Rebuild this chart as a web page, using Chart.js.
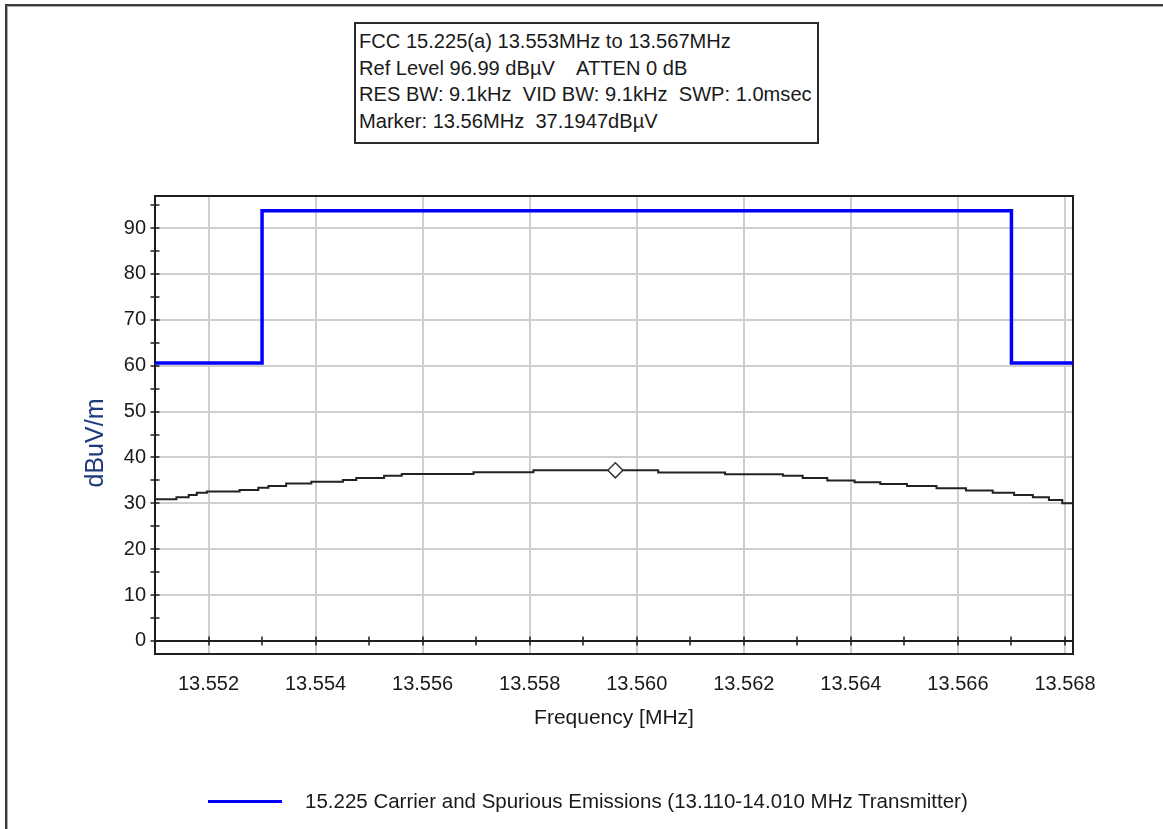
<!DOCTYPE html>
<html>
<head>
<meta charset="utf-8">
<title>FCC 15.225 Emissions</title>
<script src="https://cdn.jsdelivr.net/npm/chart.js@4.4.1/dist/chart.umd.min.js"></script>
<style>
  html, body { margin: 0; padding: 0; background: #ffffff; }
  #wrap { position: relative; width: 1163px; height: 829px; overflow: hidden;
          font-family: "Liberation Sans", Arial, sans-serif; color: #1a1a1a; }
  #frame { position: absolute; left: 5px; top: 4px; width: 1300px; height: 1000px;
           border-top: 2px solid #3c3c3c; border-left: 2px solid #3c3c3c;
           box-shadow: inset 1px 1px 0 #a8a8a8; }
  #chart { position: absolute; left: 0; top: 0; }
  #info { position: absolute; left: 354px; top: 22px; width: 458px; height: 114px;
          border: 2px solid #2a2a2a; background: #ffffff; padding: 4px 0 0 3px;
          box-sizing: content-box; font-size: 20.1px; line-height: 26.7px; white-space: pre; }
  #legend { position: absolute; left: 208px; top: 786px; height: 30px; display: flex; align-items: center; }
  #legend .swatch { width: 74px; height: 3px; background: #0000ff; margin-right: 23px; }
  #legend .label { font-size: 20.5px; white-space: pre; }
</style>
</head>
<body>
<div id="wrap">
  <div id="frame"></div>
  <canvas id="chart" width="1163" height="829"></canvas>
  <div id="info"></div>
  <div id="legend"><div class="swatch"></div><div class="label"></div></div>
</div>
<script>
// Measurement header
const infoLines = [
  "FCC 15.225(a) 13.553MHz to 13.567MHz",
  "Ref Level 96.99 dB\u00B5V    ATTEN 0 dB",
  "RES BW: 9.1kHz  VID BW: 9.1kHz  SWP: 1.0msec",
  "Marker: 13.56MHz  37.1947dB\u00B5V"
];
const legendLabel = "15.225 Carrier and Spurious Emissions (13.110-14.010 MHz Transmitter)";
const xTitle = "Frequency [MHz]";
const yTitle = "dBuV/m";

// Axis ticks
const xTickValues = [13.552, 13.554, 13.556, 13.558, 13.560, 13.562, 13.564, 13.566, 13.568];
const xMinorTicks = [13.553, 13.555, 13.557, 13.559, 13.561, 13.563, 13.565, 13.567];
const yTickValues = [0, 10, 20, 30, 40, 50, 60, 70, 80, 90];
const yMinorTicks = [5, 15, 25, 35, 45, 55, 65, 75, 85, 95];
const xRange = [13.551, 13.56815];
const yRange = [-2.85, 97.0];

// Limit mask (15.225 carrier and spurious emissions)
const limitFreqs  = [13.551, 13.553, 13.553, 13.567, 13.567, 13.56815];
const limitLevels = [60.6, 60.6, 93.8, 93.8, 60.6, 60.6];

// Measured sweep: each level holds from its frequency up to the next one
const traceFreqs = [13.55100, 13.55140, 13.55163, 13.55178, 13.55197, 13.55258, 13.55293, 13.55312,
                    13.55345, 13.55392, 13.55451, 13.55476, 13.55528, 13.55561, 13.55695, 13.55807,
                    13.56040, 13.56165, 13.56273, 13.56310, 13.56356, 13.56407, 13.56455, 13.56505,
                    13.56560, 13.56615, 13.56665, 13.56705, 13.56740, 13.56770, 13.56795, 13.56815];
const traceLevels = [30.9, 31.3, 31.8, 32.3, 32.6, 32.9, 33.4, 33.8,
                     34.3, 34.7, 35.1, 35.5, 36.0, 36.4, 36.8, 37.19,
                     36.7, 36.35, 36.0, 35.5, 35.0, 34.6, 34.2, 33.8,
                     33.3, 32.8, 32.3, 31.8, 31.3, 30.7, 30.0, 29.7];

// Marker reading
const markerFreq = [13.5596];
const markerLevel = [37.1947];

document.getElementById('info').textContent = infoLines.join('\n');
document.querySelector('#legend .label').textContent = legendLabel;

const toPoints = (xs, ys) => xs.map((x, i) => ({ x: x, y: ys[i] }));

// Plot frame, zero axis, tick marks and the rotated y title
const axisDecor = {
  id: 'axisDecor',
  beforeDatasetsDraw(chart) {
    const { ctx, chartArea: a, scales: { x, y } } = chart;
    ctx.save();
    ctx.strokeStyle = '#1e1e1e';
    ctx.lineWidth = 2;
    ctx.strokeRect(a.left, a.top, a.right - a.left, a.bottom - a.top);
    const y0 = Math.round(y.getPixelForValue(0));
    ctx.beginPath();
    ctx.moveTo(a.left, y0);
    ctx.lineTo(a.right, y0);
    ctx.stroke();
    ctx.lineWidth = 1.5;
    ctx.beginPath();
    yTickValues.concat(yMinorTicks).forEach(v => {
      const p = Math.round(y.getPixelForValue(v));
      ctx.moveTo(a.left - 4.5, p);
      ctx.lineTo(a.left + 4.5, p);
    });
    xTickValues.concat(xMinorTicks).forEach(v => {
      const p = Math.round(x.getPixelForValue(v));
      ctx.moveTo(p, y0 - 4.5);
      ctx.lineTo(p, y0 + 4.5);
    });
    ctx.stroke();
    ctx.translate(103, 443);
    ctx.rotate(-Math.PI / 2);
    ctx.fillStyle = '#1d3b7c';
    ctx.font = '25px "Liberation Sans", Arial, sans-serif';
    ctx.textAlign = 'center';
    ctx.textBaseline = 'alphabetic';
    ctx.fillText(yTitle, 0, 0);
    ctx.restore();
  }
};

Chart.defaults.font.family = '"Liberation Sans", Arial, sans-serif';
Chart.defaults.color = '#1a1a1a';

new Chart(document.getElementById('chart'), {
  type: 'line',
  data: {
    datasets: [
      {
        label: 'Marker',
        data: toPoints(markerFreq, markerLevel),
        showLine: false,
        pointStyle: 'rectRot',
        pointRadius: 7.5,
        pointBackgroundColor: '#ffffff',
        pointBorderColor: '#333333',
        pointBorderWidth: 1.5,
        order: 0
      },
      {
        label: 'Sweep',
        data: toPoints(traceFreqs, traceLevels),
        stepped: 'before',
        borderColor: '#222222',
        borderWidth: 2,
        pointRadius: 0,
        order: 2
      },
      {
        label: legendLabel,
        data: toPoints(limitFreqs, limitLevels),
        borderColor: '#0000ff',
        borderWidth: 3.5,
        borderJoinStyle: 'miter',
        pointRadius: 0,
        order: 1
      }
    ]
  },
  options: {
    responsive: false,
    animation: false,
    events: [],
    layout: { padding: { left: 0, top: 196, right: 90, bottom: 0 } },
    plugins: { legend: { display: false }, tooltip: { enabled: false } },
    scales: {
      x: {
        type: 'linear',
        min: xRange[0],
        max: xRange[1],
        afterBuildTicks: s => { s.ticks = xTickValues.map(v => ({ value: v })); },
        afterFit: s => { s.height = 175; },
        ticks: {
          callback: v => Number(v).toFixed(3),
          font: { size: 20 },
          padding: 18,
          maxRotation: 0,
          autoSkip: false
        },
        grid: { color: '#cfcfcf', lineWidth: 2, drawTicks: false },
        border: { display: false },
        title: {
          display: true,
          text: xTitle,
          font: { size: 21 },
          padding: { top: 0, bottom: 98 }
        }
      },
      y: {
        type: 'linear',
        min: yRange[0],
        max: yRange[1],
        afterBuildTicks: s => { s.ticks = yTickValues.map(v => ({ value: v })); },
        afterFit: s => { s.width = 155; },
        ticks: { font: { size: 20 }, padding: 9, autoSkip: false },
        grid: { color: '#cfcfcf', lineWidth: 2, drawTicks: false },
        border: { display: false }
      }
    }
  },
  plugins: [axisDecor]
});
</script>
</body>
</html>
